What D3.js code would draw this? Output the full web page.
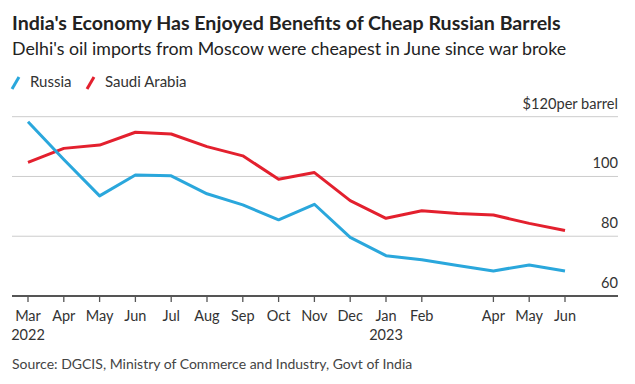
<!DOCTYPE html>
<html>
<head>
<meta charset="utf-8">
<script src="https://cdn.jsdelivr.net/npm/d3@7"></script>
<style>
  body { margin: 0; background: #fff; }
  svg { display: block; font-family: Lato, "Open Sans", sans-serif; }
</style>
</head>
<body>
<div id="viz"></div>
<script>
var months = ['Mar', 'Apr', 'May', 'Jun', 'Jul', 'Aug', 'Sep', 'Oct', 'Nov', 'Dec',
  'Jan', 'Feb', 'Mar23', 'Apr23', 'May23', 'Jun23']
var monthLabels = ['Mar', 'Apr', 'May', 'Jun', 'Jul', 'Aug', 'Sep', 'Oct', 'Nov', 'Dec',
  'Jan', 'Feb', '', 'Apr', 'May', 'Jun']
var yearLabels = ['2022', '', '', '', '', '', '', '', '', '', '2023', '', '', '', '', '']
var russia = [118.3, 105.7, 93.5, 100.5, 100.2, 94.2, 90.5, 85.5, 90.7, 79.6,
  73.5, 72.1, 70.2, 68.4, 70.4, 68.4]
var saudi = [104.7, 109.4, 110.5, 114.8, 114.2, 110.0, 106.9, 99.1, 101.3, 91.9,
  86.0, 88.5, 87.6, 87.1, 84.3, 81.9]
var yTicks = [60, 80, 100, 120]

var width = 635,
    height = 384;

var svg = d3.select('#viz').append('svg')
  .attr('width', width)
  .attr('height', height)

var x = d3.scalePoint()
  .domain(months)
  .range([28, 565])

var y = d3.scaleLinear()
  .domain([60, 120])
  .range([296, 116.7])

// titles
svg.append('text')
  .attr('x', 12).attr('y', 30)
  .style('font-size', '19.6px').style('font-weight', 'bold').style('fill', '#222')
  .text("India's Economy Has Enjoyed Benefits of Cheap Russian Barrels")

svg.append('text')
  .attr('x', 12).attr('y', 55)
  .style('font-size', '17.8px').style('fill', '#222')
  .text("Delhi's oil imports from Moscow were cheapest in June since war broke")

// legend
var legend = [{ name: 'Russia', color: '#2aa7dc', x: 12 }, { name: 'Saudi Arabia', color: '#e3202e', x: 87 }]
var lg = svg.selectAll('.lg').data(legend).enter().append('g')
  .attr('transform', function(d) { return 'translate(' + d.x + ',0)' })
lg.append('line')
  .attr('x1', 0).attr('y1', 89).attr('x2', 7).attr('y2', 77)
  .style('stroke', function(d) { return d.color })
  .style('stroke-width', 3)
lg.append('text')
  .attr('x', 18).attr('y', 87)
  .style('font-size', '15px').style('fill', '#333')
  .text(function(d) { return d.name })

// gridlines
svg.selectAll('.grid').data(yTicks.slice(1)).enter().append('line')
  .attr('x1', 12).attr('x2', 618)
  .attr('y1', function(d) { return y(d) })
  .attr('y2', function(d) { return y(d) })
  .style('stroke', '#cccccc').style('stroke-width', 1)

svg.selectAll('.ylab').data(yTicks).enter().append('text')
  .attr('x', 618)
  .attr('y', function(d) { return y(d) - 8 })
  .attr('text-anchor', 'end')
  .style('font-size', '14.6px').style('fill', '#333')
  .text(function(d) { return d === 120 ? '$120per barrel' : d })

// x axis
svg.append('line')
  .attr('x1', 12).attr('x2', 618)
  .attr('y1', y(60)).attr('y2', y(60))
  .style('stroke', '#555').style('stroke-width', 2)

svg.selectAll('.tick').data(months.filter(function(d, i) { return monthLabels[i] !== '' }))
  .enter().append('line')
  .attr('x1', function(d) { return x(d) }).attr('x2', function(d) { return x(d) })
  .attr('y1', y(60)).attr('y2', y(60) + 6)
  .style('stroke', '#555').style('stroke-width', 1.3)

svg.selectAll('.xlab').data(months).enter().append('text')
  .attr('x', function(d) { return x(d) })
  .attr('y', 321)
  .attr('text-anchor', 'middle')
  .style('font-size', '14.5px').style('fill', '#333')
  .text(function(d, i) { return monthLabels[i] })

svg.selectAll('.ylab2').data(months).enter().append('text')
  .attr('x', function(d) { return x(d) })
  .attr('y', 340)
  .attr('text-anchor', 'middle')
  .style('font-size', '14.5px').style('fill', '#333')
  .text(function(d, i) { return yearLabels[i] })

// lines
var line = d3.line()
  .x(function(d, i) { return x(months[i]) })
  .y(function(d) { return y(d) })

svg.append('path').datum(saudi)
  .attr('d', line)
  .style('fill', 'none').style('stroke', '#e3202e').style('stroke-width', 3)
  .style('stroke-linejoin', 'round')

svg.append('path').datum(russia)
  .attr('d', line)
  .style('fill', 'none').style('stroke', '#2aa7dc').style('stroke-width', 3)
  .style('stroke-linejoin', 'round')

// source
svg.append('text')
  .attr('x', 12).attr('y', 369)
  .style('font-size', '14px').style('fill', '#444')
  .text('Source: DGCIS, Ministry of Commerce and Industry, Govt of India')
</script>
</body>
</html>
